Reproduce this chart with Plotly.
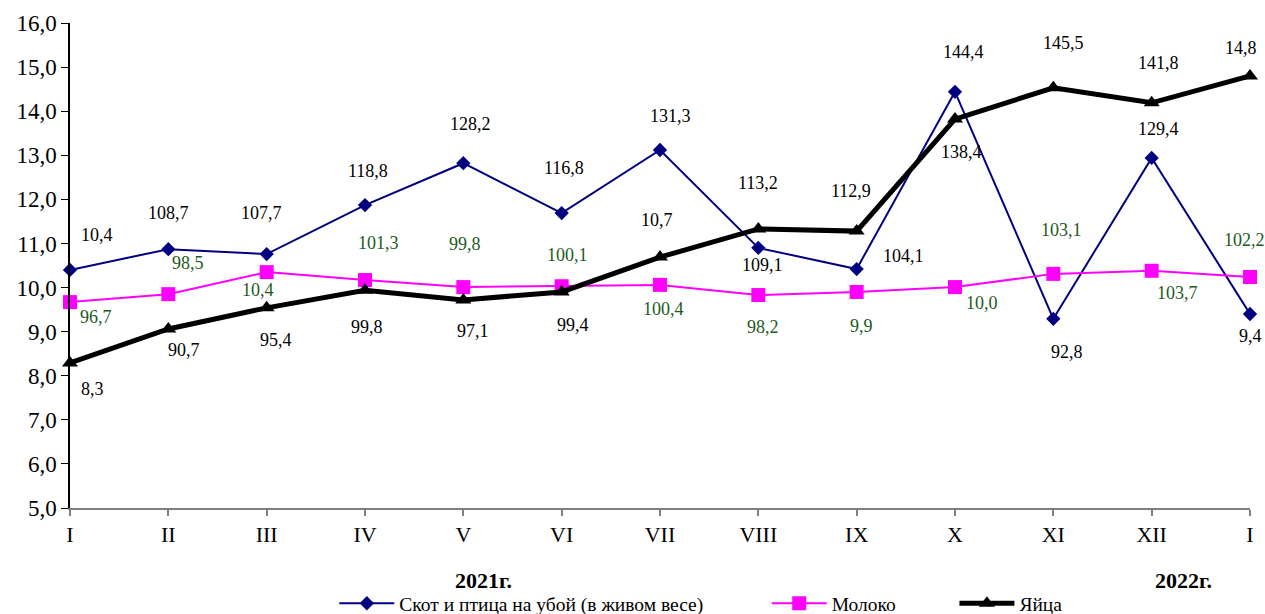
import plotly.graph_objects as go

# ---- data ----
months = ["I", "II", "III", "IV", "V", "VI", "VII", "VIII", "IX", "X", "XI", "XII", "I"]
skot = [10.40, 10.87, 10.76, 11.87, 12.82, 11.69, 13.12, 10.90, 10.42, 14.44, 9.29, 12.94, 9.40]
moloko = [9.67, 9.85, 10.35, 10.17, 10.01, 10.03, 10.06, 9.83, 9.90, 10.01, 10.31, 10.38, 10.24]
yaitsa = [8.29, 9.06, 9.54, 9.94, 9.72, 9.90, 10.69, 11.33, 11.28, 13.82, 14.53, 14.19, 14.80]

skot_labels = ["10,4", "108,7", "107,7", "118,8", "128,2", "116,8", "131,3", "109,1", "104,1", "144,4", "92,8", "129,4", "9,4"]
moloko_labels = ["96,7", "98,5", "10,4", "101,3", "99,8", "100,1", "100,4", "98,2", "9,9", "10,0", "103,1", "103,7", "102,2"]
yaitsa_labels = ["8,3", "90,7", "95,4", "99,8", "97,1", "99,4", "10,7", "113,2", "112,9", "138,4", "145,5", "141,8", "14,8"]

series_names = ["Скот и птица на убой (в живом весе)", "Молоко", "Яйца"]
year_labels = ["2021г.", "2022г."]

# ---- label offsets (pixels, relative to the point) ----
skot_off = [(27, 35), (0, 36), (-5, 41), (3, 34), (7, 39), (2, 45), (10, 34), (4, -17), (47, 13), (8, 40), (14, -33), (7, 29), (0, -22)]
moloko_off = [(26, -15), (20, 31), (-9, -18), (13, 37), (2, 43), (6, 31), (3, -24), (5, -32), (5, -34), (27, -16), (8, 44), (26, -22), (-6, 37)]
yaitsa_off = [(22, -26), (16, -21), (9, -32), (2, -37), (10, -31), (11, -33), (-3, 37), (0, 46), (-6, 40), (6, -33), (10, 45), (7, 40), (-9, 28)]

FONT = "Liberation Serif, Times New Roman, serif"
GREEN = "#1d5a1d"
PAD1 = "\u00a0" * 12
PAD2 = "\u00a0" * 11

x = list(range(len(months)))

fig = go.Figure()
fig.add_trace(go.Scatter(x=x, y=skot, name=series_names[0] + PAD1, mode="lines+markers",
                         line=dict(color="#000080", width=2),
                         marker=dict(symbol="diamond", size=11, color="#000080"),
                         cliponaxis=False))
fig.add_trace(go.Scatter(x=x, y=moloko, name=series_names[1] + PAD2, mode="lines+markers",
                         line=dict(color="#ff00ff", width=2),
                         marker=dict(symbol="square", size=14, color="#ff00ff"),
                         cliponaxis=False))
fig.add_trace(go.Scatter(x=x, y=yaitsa, name=series_names[2], mode="lines+markers",
                         line=dict(color="#000000", width=5),
                         marker=dict(symbol="triangle-up", size=14, color="#000000"),
                         cliponaxis=False))

annotations = []
for vals, labs, offs, col in [(skot, skot_labels, skot_off, "#000000"),
                              (moloko, moloko_labels, moloko_off, GREEN),
                              (yaitsa, yaitsa_labels, yaitsa_off, "#000000")]:
    for i, (v, t, (dx, dy)) in enumerate(zip(vals, labs, offs)):
        annotations.append(dict(x=i, y=v, xref="x", yref="y", text=t, showarrow=False,
                                xshift=dx, yshift=dy,
                                font=dict(family=FONT, size=18, color=col)))

annotations.append(dict(x=4.2, y=-0.15, xref="x", yref="paper", yanchor="middle",
                        text="<b>%s</b>" % year_labels[0], borderpad=0,
                        showarrow=False, font=dict(family=FONT, size=22, color="#000000")))
annotations.append(dict(x=11.32, y=-0.15, xref="x", yref="paper", yanchor="middle",
                        text="<b>%s</b>" % year_labels[1], borderpad=0,
                        showarrow=False, font=dict(family=FONT, size=22, color="#000000")))

fig.update_layout(
    width=1265, height=614,
    margin=dict(l=70, r=15, t=23, b=106, autoexpand=False),
    paper_bgcolor="white", plot_bgcolor="white",
    separators=", ",
    font=dict(family=FONT, size=20, color="#000000"),
    showlegend=True,
    legend=dict(orientation="h", x=0.224, xanchor="left", y=0.017, yanchor="middle",
                yref="container",
                font=dict(family=FONT, size=19.5, color="#000000"), itemwidth=55,
                bgcolor="rgba(0,0,0,0)"),
    annotations=annotations,
    xaxis=dict(range=[0, 12], tickvals=x, ticktext=months, showgrid=False, zeroline=False,
               showline=True, linecolor="#808080", linewidth=2,
               ticks="outside", ticklen=6, tickcolor="#808080", tickwidth=1.5,
               tickfont=dict(family=FONT, size=22)),
    yaxis=dict(range=[5, 16], dtick=1, tickformat=".1f", showgrid=False, zeroline=False,
               showline=True, linecolor="#000000", linewidth=1.5,
               ticks="outside", ticklen=7, tickcolor="#000000", tickwidth=1,
               tickfont=dict(family=FONT, size=23)),
)

fig.write_html("out.html", config={"displayModeBar": False},
               post_script="document.body.style.margin='0';")
